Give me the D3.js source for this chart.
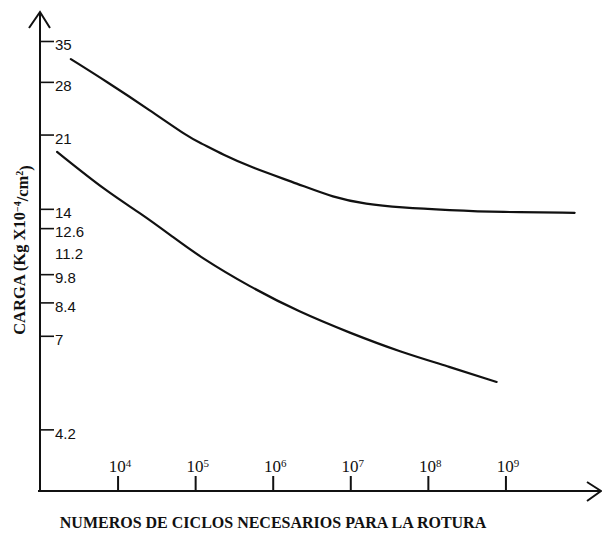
<!DOCTYPE html>
<html>
<head>
<meta charset="utf-8">
<script src="https://cdn.jsdelivr.net/npm/d3@7"></script>
<style>
  body { margin: 0; background: #fff; }
  svg { display: block; }
</style>
</head>
<body>
<div id="chart"></div>
<script>
// ticks
const cycleTicks = [1e4, 1e5, 1e6, 1e7, 1e8, 1e9];
const loadTicks = [35, 28, 21, 14, 12.6, 11.2, 9.8, 8.4, 7, 4.2];
const loadNoTick = [11.2];

// upper curve
const upperCycles = [2.5e3, 7.3e3, 2.6e4, 8.6e4, 1.15e5, 2.3e5, 5.1e5, 2.2e6, 6.0e6, 1.6e7, 4.4e7, 1.9e8, 8.5e8, 7.8e9];
const upperLoad = [31.7, 28.0, 24.0, 20.6, 20.1, 18.8, 17.6, 16.0, 14.9, 14.35, 14.1, 13.9, 13.75, 13.7];

// lower curve
const lowerCycles = [1.66e3, 7.3e3, 1.95e4, 5.2e4, 1.15e5, 5.1e5, 2.2e6, 9.9e6, 4.4e7, 1.9e8, 7.7e8];
const lowerLoad = [19.1, 15.36, 13.7, 12.0, 10.77, 9.14, 7.97, 7.11, 6.41, 5.91, 5.44];

const width = 602;
const height = 533;
const ox = 40;      // y axis position
const oy = 491;     // x axis position

const x = d3.scaleLog().domain([1e3, 1e10]).range([ox, 583]);
const y = d3.scaleLog().domain([3, 41]).range([oy, 12]);

const svg = d3.select('#chart')
  .append('svg')
  .attr('width', width)
  .attr('height', height);

const ink = '#111';

// x axis, ticks pointing up with labels above
const xAxis = svg.append('g')
  .attr('transform', `translate(0,${oy})`)
  .call(d3.axisTop(x).tickValues(cycleTicks).tickSize(15).tickPadding(4));

xAxis.select('.domain').remove();
xAxis.selectAll('line').attr('stroke', ink).attr('stroke-width', 2);
xAxis.selectAll('text')
  .attr('fill', ink)
  .attr('dx', 2)
  .style('font-family', '"Liberation Serif", serif')
  .style('font-size', '17px')
  .each(function (d) {
    const t = d3.select(this).text('');
    t.append('tspan').text('10');
    t.append('tspan')
      .attr('dy', '-0.5em')
      .style('font-size', '11px')
      .text(Math.round(Math.log10(d)));
  });

// y axis, ticks pointing right with labels beside
const yAxis = svg.append('g')
  .attr('transform', `translate(${ox},0)`)
  .call(d3.axisRight(y).tickValues(loadTicks).tickSize(14).tickPadding(1)
    .tickFormat(d => String(d)));

yAxis.select('.domain').remove();
yAxis.selectAll('line')
  .attr('stroke', ink)
  .attr('stroke-width', 1.6)
  .attr('x2', d => loadNoTick.includes(d) ? 0 : 14);
yAxis.selectAll('text')
  .attr('fill', ink)
  .attr('y', 4)
  .style('font-family', '"Liberation Sans", Arial, sans-serif')
  .style('font-size', '15px');

// axis lines with arrows
const axes = svg.append('g')
  .attr('fill', 'none')
  .attr('stroke', ink)
  .attr('stroke-width', 2);

axes.append('path').attr('d', `M${ox},${oy + 1}V12M29,28L${ox},12L50,28`);
axes.append('path').attr('d', `M38,${oy}H601M587,482L601,${oy}L587,501`);

// curves
const line = d3.line()
  .x(d => x(d[0]))
  .y(d => y(d[1]))
  .curve(d3.curveBasis);

const series = [
  d3.zip(upperCycles, upperLoad),
  d3.zip(lowerCycles, lowerLoad)
];

svg.append('g')
  .selectAll('path')
  .data(series)
  .join('path')
  .attr('fill', 'none')
  .attr('stroke', ink)
  .attr('stroke-width', 2.2)
  .attr('stroke-linecap', 'round')
  .attr('d', line);

// titles
svg.append('text')
  .attr('x', 273)
  .attr('y', 528)
  .attr('text-anchor', 'middle')
  .attr('fill', ink)
  .style('font-family', '"Liberation Serif", serif')
  .style('font-weight', 'bold')
  .style('font-size', '16px')
  .text('NUMEROS DE CICLOS NECESARIOS PARA LA ROTURA');

const yTitle = svg.append('text')
  .attr('transform', 'translate(25,250) rotate(-90)')
  .attr('text-anchor', 'middle')
  .attr('fill', ink)
  .style('font-family', '"Liberation Serif", serif')
  .style('font-weight', 'bold')
  .style('font-size', '16.5px');

yTitle.append('tspan').text('CARGA (Kg X10');
yTitle.append('tspan').attr('dy', '-0.45em').style('font-size', '10px').text('−4');
yTitle.append('tspan').attr('dy', '0.45em').text('/cm');
yTitle.append('tspan').attr('dy', '-0.45em').style('font-size', '10px').text('2');
yTitle.append('tspan').attr('dy', '0.45em').text(')');
</script>
</body>
</html>
